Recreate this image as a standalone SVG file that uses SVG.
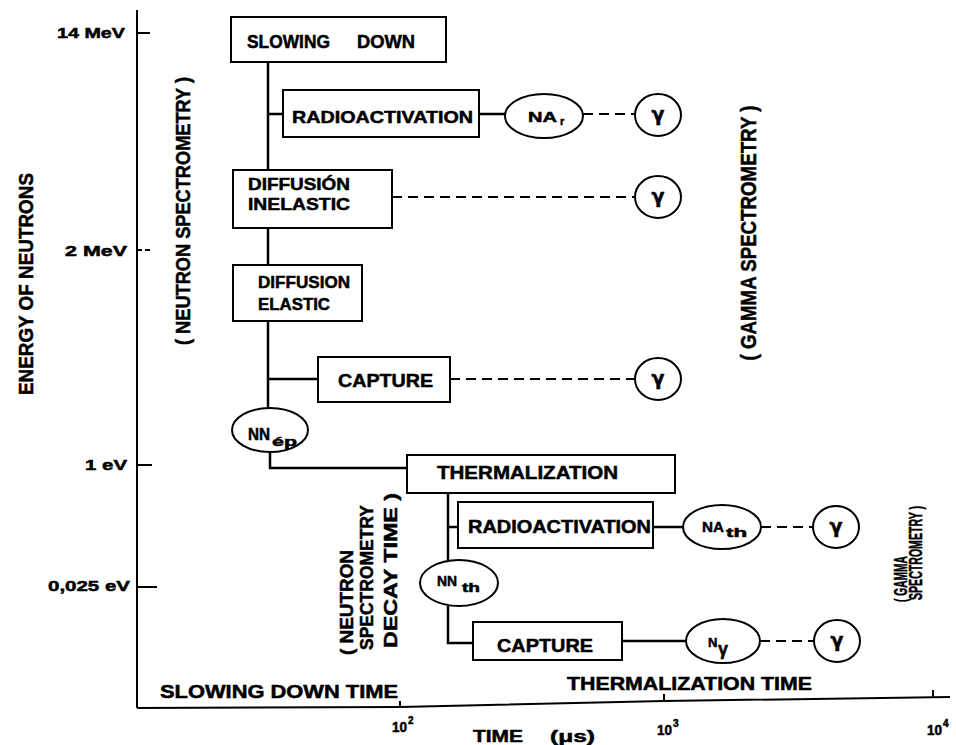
<svg xmlns="http://www.w3.org/2000/svg" width="956" height="745" viewBox="0 0 956 745">
<style>
  text { font-family: "Liberation Sans Narrow", "Liberation Sans", Arial, sans-serif; font-weight: bold; fill: #000; stroke: #000; stroke-width: 0.5; }
  .box { fill: #fff; stroke: #000; stroke-width: 2; }
  .ln { fill: none; stroke: #000; stroke-width: 2.5; }
  .dash { fill: none; stroke: #000; stroke-width: 2.2; stroke-dasharray: 10 6; }
  .ax { fill: none; stroke: #000; stroke-width: 2; }
  .bt { font-size: 18px; }
  .g { font-family: "DejaVu Sans", "Liberation Sans", sans-serif; font-size: 19px; text-anchor: middle; }
</style>
<rect width="956" height="745" fill="#fff"/>

<g id="axes">
  <line class="ax" x1="137" y1="10" x2="137" y2="708"/>
  <polyline class="ax" points="137,708 400,707 664,701 950,697"/>
  <line class="ax" x1="137" y1="33" x2="150" y2="33"/>
  <line class="ax" x1="137" y1="250" x2="152" y2="250" stroke-dasharray="5 3"/>
  <line class="ax" x1="137" y1="465" x2="152" y2="465"/>
  <line class="ax" x1="137" y1="587" x2="157" y2="587"/>
  <line class="ax" x1="400" y1="707" x2="400" y2="701"/>
  <line class="ax" x1="664" y1="701" x2="664" y2="694"/>
  <line class="ax" x1="933" y1="697" x2="933" y2="690"/>
  <text x="57" y="38" font-size="15" textLength="68" lengthAdjust="spacingAndGlyphs">14 MeV</text>
  <text x="65" y="256" font-size="15" textLength="62" lengthAdjust="spacingAndGlyphs">2 MeV</text>
  <text x="85" y="470" font-size="15" textLength="42" lengthAdjust="spacingAndGlyphs">1 eV</text>
  <text x="48" y="591" font-size="15" textLength="82" lengthAdjust="spacingAndGlyphs">0,025 eV</text>
  <text transform="translate(33,284) rotate(-90)" text-anchor="middle" font-size="21" textLength="222" lengthAdjust="spacingAndGlyphs">ENERGY OF NEUTRONS</text>
  <text x="160" y="698" font-size="18" textLength="238" lengthAdjust="spacingAndGlyphs">SLOWING DOWN TIME</text>
  <text x="567" y="690" font-size="18" textLength="245" lengthAdjust="spacingAndGlyphs">THERMALIZATION TIME</text>
  <text x="392" y="732" font-size="14" textLength="15" lengthAdjust="spacingAndGlyphs">10</text>
  <text x="408" y="724" font-size="10">2</text>
  <text x="657" y="735" font-size="14" textLength="15" lengthAdjust="spacingAndGlyphs">10</text>
  <text x="673" y="727" font-size="10">3</text>
  <text x="927" y="735" font-size="14" textLength="15" lengthAdjust="spacingAndGlyphs">10</text>
  <text x="943" y="727" font-size="10">4</text>
  <text x="473" y="742" font-size="17" textLength="50" lengthAdjust="spacingAndGlyphs">TIME</text>
  <text x="550" y="742" font-size="16" textLength="45" lengthAdjust="spacingAndGlyphs">(μs)</text>
</g>

<g id="labels">
  <text transform="translate(190,211) rotate(-90)" text-anchor="middle" font-size="21" textLength="268" lengthAdjust="spacingAndGlyphs">( NEUTRON SPECTROMETRY )</text>
  <text transform="translate(756,233) rotate(-90)" text-anchor="middle" font-size="22" textLength="255" lengthAdjust="spacingAndGlyphs">( GAMMA SPECTROMETRY )</text>
  <text transform="translate(353,655) rotate(-90)" font-size="19" textLength="105" lengthAdjust="spacingAndGlyphs">( NEUTRON</text>
  <text transform="translate(373,650) rotate(-90)" font-size="19" textLength="145" lengthAdjust="spacingAndGlyphs">SPECTROMETRY</text>
  <text transform="translate(397,648) rotate(-90)" font-size="19" textLength="155" lengthAdjust="spacingAndGlyphs">DECAY TIME )</text>
  <text transform="translate(907,602) rotate(-90)" font-size="19" textLength="46" lengthAdjust="spacingAndGlyphs">( GAMMA</text>
  <text transform="translate(922,600) rotate(-90)" font-size="19" textLength="94" lengthAdjust="spacingAndGlyphs">SPECTROMETRY )</text>
</g>

<g id="connectors">
  <line class="ln" x1="268" y1="62" x2="268" y2="170"/>
  <line class="ln" x1="268" y1="114" x2="283" y2="114"/>
  <line class="ln" x1="268" y1="228" x2="268" y2="265"/>
  <line class="ln" x1="268" y1="321" x2="268" y2="408"/>
  <line class="ln" x1="268" y1="379" x2="318" y2="379"/>
  <polyline class="ln" points="270,452 270,468 407,468"/>
  <line class="ln" x1="479" y1="114" x2="505" y2="114"/>
  <line class="dash" x1="583" y1="114" x2="635" y2="114"/>
  <line class="dash" x1="392" y1="197" x2="635" y2="197"/>
  <line class="dash" x1="450" y1="379" x2="635" y2="379"/>
  <line class="ln" x1="448" y1="493" x2="448" y2="560"/>
  <line class="ln" x1="448" y1="527" x2="458" y2="527"/>
  <line class="ln" x1="653" y1="527" x2="683" y2="527"/>
  <line class="dash" x1="761" y1="527" x2="813" y2="527"/>
  <polyline class="ln" points="448,606 448,643 473,643"/>
  <line class="ln" x1="622" y1="641" x2="686" y2="641"/>
  <line class="dash" x1="760" y1="641" x2="814" y2="641"/>
</g>

<g id="slowing-down">
  <rect class="box" x="231" y="17" width="215" height="45"/>
  <text class="bt" x="247" y="48" textLength="83" lengthAdjust="spacingAndGlyphs">SLOWING</text>
  <text class="bt" x="357" y="48" textLength="58" lengthAdjust="spacingAndGlyphs">DOWN</text>
</g>
<g id="radioactivation-1">
  <rect class="box" x="283" y="90" width="196" height="47"/>
  <text x="292" y="123" font-size="16.5" textLength="181" lengthAdjust="spacingAndGlyphs">RADIOACTIVATION</text>
</g>
<g id="na-r">
  <ellipse class="box" cx="544" cy="116" rx="39" ry="22"/>
  <text x="528" y="122" font-size="15" textLength="29" lengthAdjust="spacingAndGlyphs">NA</text>
  <text x="560" y="125" font-size="11">r</text>
</g>
<g id="gamma-1">
  <ellipse class="box" cx="658" cy="115" rx="23" ry="21"/>
  <text class="g" x="658" y="121">γ</text>
</g>
<g id="diffusion-inelastic">
  <rect class="box" x="233" y="170" width="159" height="58"/>
  <text x="248" y="190" font-size="16.5" textLength="102" lengthAdjust="spacingAndGlyphs">DIFFUSIÓN</text>
  <text x="248" y="210" font-size="16.5" textLength="102" lengthAdjust="spacingAndGlyphs">INELASTIC</text>
</g>
<g id="gamma-2">
  <ellipse class="box" cx="658" cy="197" rx="23" ry="21"/>
  <text class="g" x="658" y="203">γ</text>
</g>
<g id="diffusion-elastic">
  <rect class="box" x="233" y="265" width="129" height="56"/>
  <text x="258" y="288" font-size="16.5" textLength="92" lengthAdjust="spacingAndGlyphs">DIFFUSION</text>
  <text x="258" y="310" font-size="16.5" textLength="72" lengthAdjust="spacingAndGlyphs">ELASTIC</text>
</g>
<g id="capture-1">
  <rect class="box" x="318" y="357" width="132" height="45"/>
  <text class="bt" x="338" y="387" textLength="95" lengthAdjust="spacingAndGlyphs">CAPTURE</text>
</g>
<g id="gamma-3">
  <ellipse class="box" cx="658" cy="379" rx="23" ry="21"/>
  <text class="g" x="658" y="385">γ</text>
</g>
<g id="nn-ep">
  <ellipse class="box" cx="270" cy="430" rx="38" ry="22"/>
  <text x="248" y="440" font-size="16" textLength="22" lengthAdjust="spacingAndGlyphs">NN</text>
  <text x="272" y="446" font-size="13" textLength="25" lengthAdjust="spacingAndGlyphs">ép</text>
</g>
<g id="thermalization">
  <rect class="box" x="407" y="455" width="268" height="38"/>
  <text class="bt" x="437" y="479" textLength="181" lengthAdjust="spacingAndGlyphs">THERMALIZATION</text>
</g>
<g id="radioactivation-2">
  <rect class="box" x="458" y="502" width="195" height="46"/>
  <text x="468" y="533" font-size="17.5" textLength="183" lengthAdjust="spacingAndGlyphs">RADIOACTIVATION</text>
</g>
<g id="na-th">
  <ellipse class="box" cx="722" cy="527" rx="39" ry="22"/>
  <text x="702" y="532" font-size="15" textLength="22" lengthAdjust="spacingAndGlyphs">NA</text>
  <text x="726" y="537" font-size="12" textLength="21" lengthAdjust="spacingAndGlyphs">th</text>
</g>
<g id="gamma-4">
  <ellipse class="box" cx="836" cy="527" rx="23" ry="21"/>
  <text class="g" x="836" y="533">γ</text>
</g>
<g id="nn-th">
  <ellipse class="box" cx="459" cy="583" rx="39" ry="23"/>
  <text x="437" y="586" font-size="14" textLength="20" lengthAdjust="spacingAndGlyphs">NN</text>
  <text x="462" y="592" font-size="12" textLength="18" lengthAdjust="spacingAndGlyphs">th</text>
</g>
<g id="capture-2">
  <rect class="box" x="473" y="622" width="149" height="38"/>
  <text x="497" y="652" font-size="19" textLength="96" lengthAdjust="spacingAndGlyphs">CAPTURE</text>
</g>
<g id="n-gamma">
  <ellipse class="box" cx="723" cy="641" rx="37" ry="22"/>
  <text x="708" y="647" font-size="13">N</text>
  <text x="718" y="655" font-size="18" font-family="DejaVu Sans, sans-serif">γ</text>
</g>
<g id="gamma-5">
  <ellipse class="box" cx="837" cy="641" rx="23" ry="21"/>
  <text class="g" x="837" y="647">γ</text>
</g>
</svg>
